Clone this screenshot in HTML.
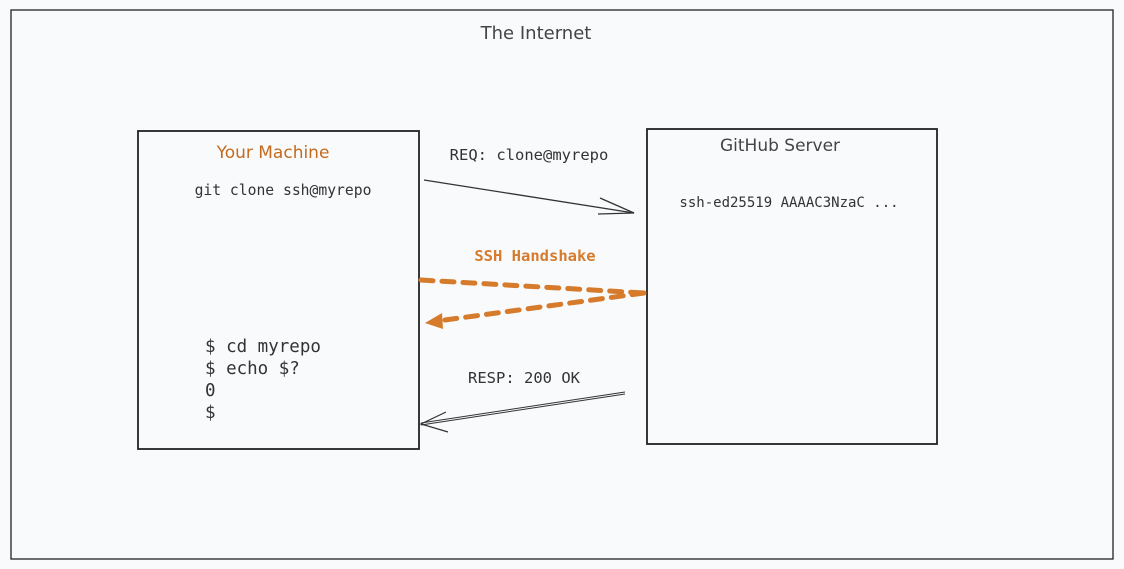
<!DOCTYPE html>
<html><head><style>
body{margin:0;background:#f9fafb;}
svg{display:block}
.m{font-family:"DejaVu Sans Mono","Liberation Mono",monospace;fill:#333}
.h{font-family:"Comic Sans MS","DejaVu Sans",sans-serif}
</style></head><body>
<svg width="1124" height="569" viewBox="0 0 1124 569">
<rect x="0" y="0" width="1124" height="569" fill="#f9fafb"/>
<rect x="11" y="10" width="1102" height="549" fill="none" stroke="#222" stroke-width="1.3"/>
<text x="536" y="39" class="h" font-size="18" fill="#444" text-anchor="middle">The Internet</text>
<rect x="138" y="131" width="281" height="318" fill="none" stroke="#222" stroke-width="1.8"/>
<rect x="647" y="129" width="290" height="315" fill="none" stroke="#222" stroke-width="1.8"/>
<text x="273" y="158" class="h" font-size="17" fill="#c46a1e" text-anchor="middle">Your Machine</text>
<text x="780" y="151" class="h" font-size="17" fill="#444" text-anchor="middle">GitHub Server</text>
<text x="283" y="195" class="m" font-size="14.7" text-anchor="middle">git clone ssh@myrepo</text>
<text x="789" y="207" class="m" font-size="14" text-anchor="middle">ssh-ed25519 AAAAC3NzaC ...</text>
<text x="529" y="160" class="m" font-size="15.5" text-anchor="middle">REQ: clone@myrepo</text>
<text x="535" y="261" class="m" font-size="15.5" font-weight="bold" style="fill:#d67a2c" text-anchor="middle">SSH Handshake</text>
<text x="524" y="383" class="m" font-size="15.5" text-anchor="middle">RESP: 200 OK</text>
<g class="m" font-size="17.5">
<text x="205" y="352">$ cd myrepo</text>
<text x="205" y="374">$ echo $?</text>
<text x="205" y="396">0</text>
<text x="205" y="418">$</text>
</g>
<line x1="424" y1="180" x2="634" y2="213" stroke="#333" stroke-width="1.3"/>
<polyline points="600,198 634,213 598,214" fill="none" stroke="#333" stroke-width="1.3"/>
<line x1="421" y1="280" x2="644" y2="293" stroke="#d67a2c" stroke-width="5" stroke-dasharray="12,9" stroke-linecap="round"/>
<line x1="644" y1="293" x2="445" y2="320" stroke="#d67a2c" stroke-width="5" stroke-dasharray="12,9" stroke-linecap="round"/>
<polygon points="425,323 442,313 443,329" fill="#d67a2c"/>
<line x1="625" y1="392" x2="421" y2="423" stroke="#333" stroke-width="1"/>
<line x1="625" y1="394" x2="421" y2="425" stroke="#333" stroke-width="1"/>
<polyline points="446,412 421,424 448,432" fill="none" stroke="#333" stroke-width="1.2"/>
</svg>
</body></html>
